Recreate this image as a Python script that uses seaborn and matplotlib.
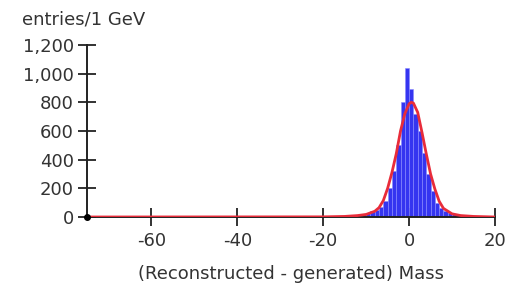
import numpy as np
import pandas as pd
import matplotlib
matplotlib.use("Agg")
import matplotlib.pyplot as plt
import seaborn as sns
from matplotlib.ticker import FuncFormatter

# ---- data ----
# histogram: left edges of 1 GeV bins and their entries
bin_left = [-38, -36, -35, -33, -31, -30, -28, -26, -25, -23,
            -20, -19, -18, -17, -16, -15, -14, -13, -12, -11,
            -10, -9, -8, -7, -6, -5, -4, -3, -2, -1,
            0, 1, 2, 3, 4, 5, 6, 7, 8, 9,
            10, 11, 12, 13, 14, 15, 16, 17, 18, 19]
entries = [3, 3, 3, 3, 3, 3, 3, 3, 3, 3,
           3, 3, 4, 5, 6, 7, 9, 12, 16, 22,
           30, 40, 50, 70, 110, 200, 320, 500, 805, 1040,
           890, 720, 600, 450, 300, 180, 100, 60, 40, 30,
           22, 15, 10, 7, 5, 4, 3, 3, 2, 2]

# fitted curve, points
fit_x = [-75, -20, -15, -12, -10, -8, -7, -6, -5, -4, -3, -2, -1, 0, 0.5,
         1, 2, 3, 4, 5, 6, 7, 8, 10, 12, 15, 20]
fit_y = [0, 1, 4, 10, 18, 40, 65, 115, 200, 310, 440, 600, 720, 790, 800,
         795, 730, 590, 440, 300, 195, 110, 60, 22, 10, 4, 0]

x_ticks = [-60, -40, -20, 0, 20]
y_ticks = [0, 200, 400, 600, 800, 1000, 1200]
x_range = (-75, 20)
y_range = (0, 1200)
origin_dot_x = [-75]
origin_dot_y = [0]

y_title = "entries/1 GeV"
x_title = "(Reconstructed - generated) Mass"

# ---- drawing ----
sns.set_theme(style="white")
plt.rcParams['font.family'] = ['DejaVu Sans']
plt.rcParams['axes.unicode_minus'] = False

W, H, DPI = 510, 284, 100
fig = plt.figure(figsize=(W / DPI, H / DPI), dpi=DPI)
ax = fig.add_axes([87 / W, 67 / H, (495 - 87) / W, (217 - 45) / H])

hist_df = pd.DataFrame({"x": np.array(bin_left) + 0.5, "n": entries})
sns.histplot(data=hist_df, x="x", weights="n", binwidth=1,
             binrange=(min(bin_left), max(bin_left) + 1),
             color="#3535f0", edgecolor="#8a8aff", linewidth=0.4,
             alpha=1.0, ax=ax)

fit_df = pd.DataFrame({"x": fit_x, "y": fit_y})
sns.lineplot(data=fit_df, x="x", y="y", color="#e82c3a", linewidth=2.0,
             ax=ax, zorder=5)

ax.plot(origin_dot_x, origin_dot_y, "o", color="black", markersize=4,
        clip_on=False, zorder=6)

ax.set_xlim(*x_range)
ax.set_ylim(*y_range)
ax.set_xticks(x_ticks)
ax.set_yticks(y_ticks)
ax.yaxis.set_major_formatter(FuncFormatter(lambda v, p: f"{int(v):,}"))

for s in ["top", "right"]:
    ax.spines[s].set_visible(False)
for s in ["left", "bottom"]:
    ax.spines[s].set_color("#222222")
    ax.spines[s].set_linewidth(1.4)
    ax.spines[s].set_zorder(4)

ax.tick_params(axis="both", which="major", direction="inout", length=13,
               width=1.3, color="#222222", labelcolor="#333333",
               labelsize=13, bottom=True, left=True)
ax.tick_params(axis="y", pad=3)
ax.tick_params(axis="x", pad=4)

ax.set_ylabel("")
ax.set_xlabel(x_title, fontsize=13, color="#333333", labelpad=11)
fig.text(22 / W, 1 - 19 / H, y_title, fontsize=13, color="#333333",
         ha="left", va="center")

fig.savefig("out.png", dpi=DPI, facecolor="white")
